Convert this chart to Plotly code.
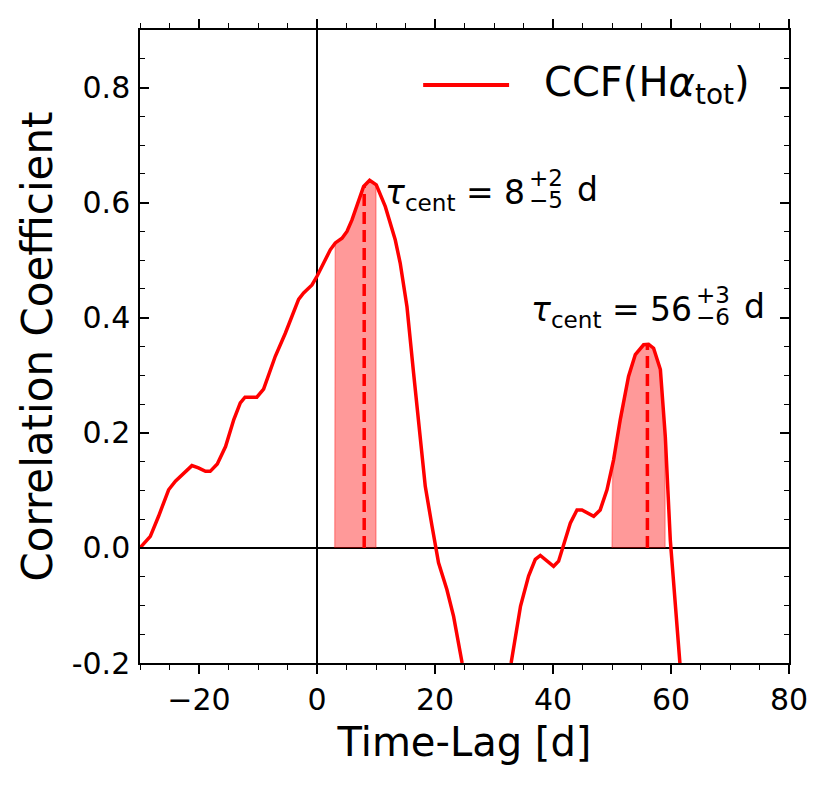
import numpy as np
import plotly.graph_objects as go

# ---- data ----
lag = [-30.0, -28.25, -26.85, -25.15, -24.0, -22.3, -21.2, -20.1, -18.9, -18.1,
       -16.9, -15.5, -14.1, -13.0, -12.2, -10.2, -9.05, -7.07, -5.37, -3.12,
       -2.27, -0.85, 0.0, 2.25, 3.1, 4.24, 5.08, 5.93, 7.9, 8.92,
       10.05, 11.58, 13.27, 14.1, 15.25, 16.37, 17.5, 18.35, 19.5, 20.6,
       22.0, 23.15, 24.6, 26.5, 28.5, 30.5, 32.9, 34.5, 35.86, 37.0,
       37.85, 40.1, 40.95, 42.93, 44.07, 44.9, 46.9, 48.0, 49.15, 50.27,
       51.4, 52.8, 53.95, 55.36, 56.2, 57.05, 58.2, 59.03, 59.88, 60.73,
       61.46, 62.5]
ccf = [0.0, 0.020, 0.055, 0.101, 0.116, 0.133, 0.143, 0.139, 0.133, 0.133,
       0.146, 0.176, 0.223, 0.252, 0.262, 0.262, 0.276, 0.333, 0.373, 0.432,
       0.443, 0.457, 0.472, 0.518, 0.530, 0.538, 0.550, 0.570, 0.628, 0.639,
       0.631, 0.593, 0.535, 0.495, 0.419, 0.304, 0.188, 0.107, 0.0375, -0.026,
       -0.072, -0.119, -0.2, -0.29, -0.34, -0.32, -0.2, -0.101, -0.049, -0.020,
       -0.013, -0.032, -0.023, 0.043, 0.066, 0.066, 0.055, 0.066, 0.101, 0.153,
       0.223, 0.298, 0.336, 0.353, 0.354, 0.347, 0.310, 0.194, 0.014, -0.113,
       -0.2, -0.33]

tau_cent = [8, 56]
tau_err_plus = [2, 3]
tau_err_minus = [5, 6]

x_tick_vals = [-20, 0, 20, 40, 60, 80]
x_tick_text = ["\u221220", "0", "20", "40", "60", "80"]
y_tick_vals = [-0.2, 0.0, 0.2, 0.4, 0.6, 0.8]
y_tick_text = ["-0.2", "0.0", "0.2", "0.4", "0.6", "0.8"]

legend_name = "CCF(H<i>\u03b1</i><sub>tot</sub>)"

# label anchor (end of the main number) in data coordinates
label_x = [35.3, 63.56]
label_y = [0.599, 0.396]

FONT = "DejaVu Sans"
RED = "#ff0000"

fig = go.Figure()

# shaded uncertainty bands
for tc, ep, em in zip(tau_cent, tau_err_plus, tau_err_minus):
    lo, hi = tc - em, tc + ep
    xs = np.linspace(lo, hi, 80)
    ys = np.interp(xs, lag, ccf)
    px = np.concatenate([[lo], xs, [hi]])
    py = np.concatenate([[0.0], ys, [0.0]])
    fig.add_trace(go.Scatter(x=px, y=py, mode="lines", fill="toself",
                             fillcolor="rgba(255,0,0,0.4)",
                             line=dict(color="rgba(255,0,0,0.3)", width=1.5),
                             hoverinfo="skip", showlegend=False))

# CCF curve
fig.add_trace(go.Scatter(x=lag, y=ccf, mode="lines", name=legend_name,
                         line=dict(color=RED, width=3.5), showlegend=False))

# centroid dashed lines
for tc in tau_cent:
    fig.add_trace(go.Scatter(x=[tc, tc], y=[0.0, float(np.interp(tc, lag, ccf))],
                             mode="lines", line=dict(color=RED, width=3.5, dash="12px,6px"),
                             hoverinfo="skip", showlegend=False))

# centroid labels
for lx, ly, tc, ep, em in zip(label_x, label_y, tau_cent, tau_err_plus, tau_err_minus):
    fig.add_annotation(x=lx, y=ly, xref="x", yref="y", xanchor="right", yanchor="middle",
                       text=f"<i>\u03c4</i><sub>cent</sub> = {tc}", showarrow=False,
                       font=dict(family=FONT, size=33, color="black"), xshift=2, yshift=9)
    fig.add_annotation(x=lx, y=ly, xref="x", yref="y", xanchor="left", yanchor="middle",
                       text=f"+{ep}", showarrow=False, xshift=2, yshift=25,
                       font=dict(family=FONT, size=23, color="black"))
    fig.add_annotation(x=lx, y=ly, xref="x", yref="y", xanchor="left", yanchor="middle",
                       text=f"\u2212{em}", showarrow=False, xshift=2, yshift=3,
                       font=dict(family=FONT, size=23, color="black"))
    fig.add_annotation(x=lx, y=ly, xref="x", yref="y", xanchor="left", yanchor="middle",
                       text="d", showarrow=False, xshift=50, yshift=14,
                       font=dict(family=FONT, size=33, color="black"))

# legend (drawn inside the axes, upper right)
fig.add_shape(type="line", xref="paper", yref="paper", x0=0.4363, x1=0.5687,
              y0=0.9132, y1=0.9132, line=dict(color=RED, width=4))
fig.add_annotation(x=0.6194, y=0.9132, xref="paper", yref="paper", xanchor="left",
                   yanchor="middle", text=legend_name, showarrow=False,
                   font=dict(family=FONT, size=40, color="black"))

axis_common = dict(showline=True, linecolor="black", linewidth=1.5, showgrid=False,
                   zeroline=True, zerolinecolor="black", zerolinewidth=1.5,
                   tickcolor="black", tickwidth=1.5, ticklen=9, mirror="allticks",
                   tickfont=dict(family=FONT, size=30, color="black"))

fig.update_xaxes(range=[-30, 80], tickmode="array", tickvals=x_tick_vals,
                 ticktext=x_tick_text, ticks="outside",
                 minor=dict(tickmode="linear", tick0=-30, dtick=5, ticks="outside",
                            ticklen=5.5, tickwidth=1.2, tickcolor="black", showgrid=False),
                 title=dict(text="Time-Lag [d]", font=dict(family=FONT, size=40, color="black"),
                            standoff=12),
                 **axis_common)
fig.update_yaxes(range=[-0.2, 0.9], tickmode="array", tickvals=y_tick_vals,
                 ticktext=y_tick_text, ticks="inside", ticklabelstandoff=2,
                 minor=dict(tickmode="linear", tick0=-0.2, dtick=0.05, ticks="inside",
                            ticklen=5.5, tickwidth=1.2, tickcolor="black", showgrid=False),
                 title=dict(text="Correlation Coefficient",
                            font=dict(family=FONT, size=42, color="black"), standoff=6),
                 **axis_common)

# the page adds an 8px body margin, so the margins are reduced by 8px on the left/top
fig.update_layout(width=829, height=785, margin=dict(l=132, r=48, t=22, b=130),
                  plot_bgcolor="white", paper_bgcolor="white",
                  font=dict(family=FONT, color="black"), showlegend=False)

fig.write_html("out.html")
